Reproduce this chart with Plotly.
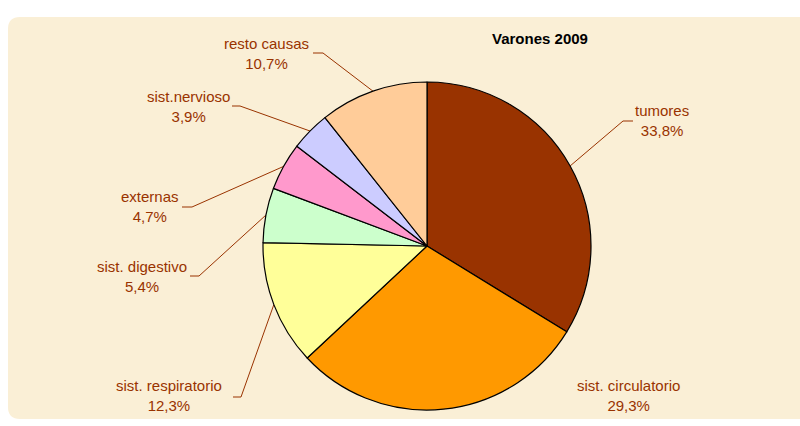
import math
import plotly.graph_objects as go

# ---- data ----
categories = ["tumores", "sist. circulatorio", "sist. respiratorio", "sist. digestivo",
              "externas", "sist.nervioso", "resto causas"]
values = [33.8, 29.3, 12.3, 5.4, 4.7, 3.9, 10.7]
colors = ["#993300", "#FF9900", "#FFFF99", "#CCFFCC", "#FF99CC", "#CCCCFF", "#FFCC99"]
title = "Varones 2009"

# ---- layout (pixels) ----
W, H = 800, 426
CX, CY, R = 427, 246, 164
TEXT_COLOR = "#993300"
FONT = "Liberation Sans, Arial, sans-serif"

# label block centres and leader-line (elbow, end) per category, None = no line
label_pos = {
    "tumores": (662, 120),
    "sist. circulatorio": (628, 395),
    "sist. respiratorio": (169, 395),
    "sist. digestivo": (142, 276),
    "externas": (150, 206),
    "sist.nervioso": (188, 106),
    "resto causas": (266, 53),
}
leader = {
    "tumores": [(623, 121), (633, 121)],
    "sist. circulatorio": None,
    "sist. respiratorio": [(241, 397), (233, 397)],
    "sist. digestivo": [(199, 276), (190, 276)],
    "externas": [(192, 207), (182, 207)],
    "sist.nervioso": [(240, 106), (232, 106)],
    "resto causas": [(323, 53), (313, 53)],
}

fig = go.Figure()

fig.add_trace(go.Pie(
    labels=categories, values=values, sort=False, direction="clockwise", rotation=0,
    marker=dict(colors=colors, line=dict(color="black", width=1.2)),
    textinfo="none", hoverinfo="label+percent", showlegend=False,
    domain=dict(x=[(CX - R) / W, (CX + R) / W], y=[(H - CY - R) / H, (H - CY + R) / H]),
))

total = sum(values)
cum = 0.0
annotations = []
for cat, v in zip(categories, values):
    mid = (cum + v / 2) / total * 2 * math.pi
    cum += v
    ex = CX + R * math.sin(mid)
    ey = CY - R * math.cos(mid)
    if leader[cat]:
        xs = [ex] + [p[0] for p in leader[cat]]
        ys = [ey] + [p[1] for p in leader[cat]]
        fig.add_trace(go.Scatter(x=xs, y=ys, mode="lines", line=dict(color=TEXT_COLOR, width=1),
                                 hoverinfo="skip", showlegend=False))
    lx, ly = label_pos[cat]
    pct = f"{v:.1f}".replace(".", ",") + "%"
    annotations.append(dict(x=lx, y=ly, xref="x", yref="y", text=f"{cat}<br>{pct}",
                            showarrow=False, font=dict(family=FONT, size=15, color=TEXT_COLOR),
                            align="center", xanchor="center", yanchor="middle"))

annotations.append(dict(x=540, y=38, xref="x", yref="y", text=f"<b>{title}</b>", showarrow=False,
                        font=dict(family=FONT, size=15, color="black"),
                        xanchor="center", yanchor="middle"))

# rounded background panel
x0, y0, x1, y1, r = 8, 17, 815, 419, 12
path = (f"M {x0+r},{y0} L {x1-r},{y0} Q {x1},{y0} {x1},{y0+r} L {x1},{y1-r} Q {x1},{y1} {x1-r},{y1} "
        f"L {x0+r},{y1} Q {x0},{y1} {x0},{y1-r} L {x0},{y0+r} Q {x0},{y0} {x0+r},{y0} Z")

fig.update_layout(
    width=W, height=H, margin=dict(l=0, r=0, t=0, b=0),
    paper_bgcolor="white", plot_bgcolor="rgba(0,0,0,0)",
    xaxis=dict(range=[0, W], visible=False, fixedrange=True),
    yaxis=dict(range=[H, 0], visible=False, fixedrange=True),
    shapes=[dict(type="path", path=path, xref="x", yref="y", fillcolor="#FAEFD6",
                 line=dict(width=0), layer="below")],
    annotations=annotations,
    font=dict(family=FONT),
)

fig.write_html("out.html", config={"displayModeBar": False})

# remove the default page margin so the figure sits at the window origin
with open("out.html", "r", encoding="utf-8") as f:
    html = f.read()
html = html.replace("<head>", "<head><style>html,body{margin:0;padding:0;overflow:hidden;}</style>", 1)
with open("out.html", "w", encoding="utf-8") as f:
    f.write(html)
